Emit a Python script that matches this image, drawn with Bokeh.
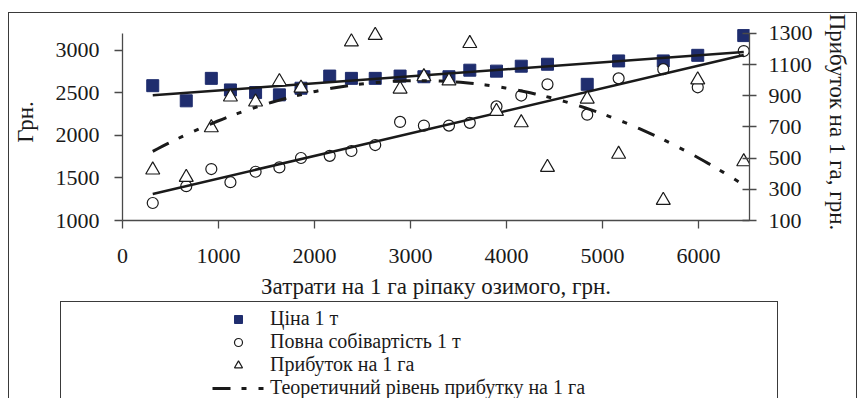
import numpy as np
from bokeh.plotting import figure
from bokeh.layouts import column
from bokeh.models import (Range1d, LinearAxis, FixedTicker, Legend, LegendItem)
from bokeh.embed import file_html
from bokeh.resources import INLINE

# ---- data ----
cost_x = [315, 664, 925, 1124, 1386, 1634, 1859, 2158, 2384, 2632, 2891,
          3139, 3400, 3617, 3895, 4153, 4426, 4840, 5167, 5632, 5991, 6470]
price = [2585, 2407, 2671, 2535, 2504, 2477, 2555, 2698, 2671, 2671, 2698,
         2690, 2690, 2767, 2756, 2814, 2837, 2601, 2876, 2876, 2942, 3174]
cost = [1206, 1403, 1605, 1450, 1573, 1624, 1735, 1760, 1817, 1887, 2159,
        2116, 2116, 2148, 2341, 2469, 2601, 2244, 2671, 2779, 2566, 2992]
profit_x = [315, 664, 925, 1124, 1386, 1634, 1859, 2384, 2632, 2891, 3139,
            3400, 3617, 3895, 4153, 4426, 4840, 5167, 5632, 5991, 6470]
profit = [424, 377, 695, 892, 860, 991, 949, 1245, 1287, 943, 1022,
          995, 1235, 800, 727, 441, 879, 525, 229, 1002, 477]

x_ticks = [0, 1000, 2000, 3000, 4000, 5000, 6000]
left_ticks = [1000, 1500, 2000, 2500, 3000]
right_ticks = [100, 300, 500, 700, 900, 1100, 1300]

labels = ["Ціна 1 т", "Повна собівартість 1 т", "Прибуток на 1 га",
          "Теоретичний рівень прибутку на 1 га"]
x_title = "Затрати на 1 га ріпаку озимого, грн."
y_title = "Грн."
y2_title = "Прибуток на 1 га, грн."

FONT = "Liberation Serif"
NAVY = "#1f2d6e"
INK = "#1a1a1a"
AXC = "#4a4a4a"
FRAME = "1px solid #3a3a3a"

# ---- main chart ----
# axis lines stop at 3200 / 1300; the ranges go a little higher so the
# top markers are not clipped by the plot frame
p = figure(width=847, height=288, output_backend="svg", toolbar_location=None,
           x_range=Range1d(0, 6530), y_range=Range1d(1000, 3316),
           min_border_left=109, min_border_right=107,
           min_border_top=10, min_border_bottom=79)
p.extra_y_ranges = {"profit": Range1d(100, 1363)}
p.outline_line_color = None
p.xgrid.grid_line_color = None
p.ygrid.grid_line_color = None

y2 = LinearAxis(y_range_name="profit")
p.add_layout(y2, "right")

p.xaxis.ticker = FixedTicker(ticks=x_ticks)
p.yaxis[0].ticker = FixedTicker(ticks=left_ticks)
y2.ticker = FixedTicker(ticks=right_ticks)
p.yaxis[0].bounds = (1000, 3200)
y2.bounds = (100, 1300)
p.xaxis.axis_label = x_title
p.yaxis[0].axis_label = y_title
y2.axis_label = y2_title

for ax in [p.xaxis[0], p.yaxis[0], y2]:
    ax.axis_line_color = AXC
    ax.axis_line_width = 1.3
    ax.major_tick_line_color = AXC
    ax.major_tick_line_width = 1.3
    ax.minor_tick_line_color = None
    ax.major_label_text_font = FONT
    ax.major_label_text_font_size = "22px"
    ax.major_label_text_color = INK
    ax.axis_label_text_font = FONT
    ax.axis_label_text_font_size = "23px"
    ax.axis_label_text_font_style = "normal"
    ax.axis_label_text_color = INK

p.xaxis.major_tick_out = 8
p.xaxis.major_tick_in = 0
p.xaxis.major_label_standoff = 20
p.xaxis.axis_label_standoff = 8
p.yaxis[0].major_tick_out = 8
p.yaxis[0].major_tick_in = 0
p.yaxis[0].major_label_standoff = 15
p.yaxis[0].axis_label_standoff = 15
y2.major_tick_out = 7
y2.major_tick_in = 7
y2.major_label_standoff = 12
y2.axis_label_standoff = 9

MARKERS = [
    dict(marker="square", size=12, fill_color=NAVY, line_color=NAVY),
    dict(marker="circle", size=11, fill_color="white", line_color=INK, line_width=1.2),
    dict(marker="triangle", size=14, fill_color="white", line_color=INK, line_width=1.2),
]
DASH = dict(line_color=INK, line_width=3, line_dash="18 11 5 12 5 12")

p.scatter(cost_x, price, **MARKERS[0])
p.scatter(cost_x, cost, **MARKERS[1])

# ---- trend lines computed from the data ----
xa = np.array(cost_x, dtype=float)
xs = np.array([xa.min(), xa.max()])
k_price = np.polyfit(xa, price, 1)
k_cost = np.polyfit(xa, cost, 1)
p.line(xs, np.polyval(k_price, xs), line_color=INK, line_width=2.5)
p.line(xs, np.polyval(k_cost, xs), line_color=INK, line_width=2.5)

p.scatter(profit_x, profit, y_range_name="profit", **MARKERS[2])

xp = np.array(profit_x, dtype=float)
k_profit = np.polyfit(xp, profit, 2)
xq = np.linspace(xp.min(), xp.max(), 120)
p.line(xq, np.polyval(k_profit, xq), y_range_name="profit", **DASH)

# ---- legend panel (boxed, below the chart) ----
# borders match the main chart's so the column layout does not realign them
q = figure(width=718, height=97, output_backend="svg", toolbar_location=None,
           x_range=Range1d(0, 1), y_range=Range1d(0, 1),
           min_border_left=109, min_border_right=107,
           min_border_top=0, min_border_bottom=0,
           x_axis_location=None, y_axis_location=None)
q.outline_line_color = None
q.xgrid.grid_line_color = None
q.ygrid.grid_line_color = None
lr = [q.scatter(cost_x, price, visible=False, **MARKERS[0]),
      q.scatter(cost_x, cost, visible=False, **MARKERS[1]),
      q.scatter(profit_x, profit, visible=False, **MARKERS[2]),
      q.line(xq, np.polyval(k_profit, xq), visible=False, **DASH)]
legend = Legend(items=[LegendItem(label=t, renderers=[r]) for t, r in zip(labels, lr)],
                location=(38, 0), border_line_color=None,
                background_fill_alpha=0, inactive_fill_alpha=0,
                padding=5, spacing=0, margin=0,
                glyph_width=52, glyph_height=20, label_height=18,
                label_standoff=6, label_text_font=FONT,
                label_text_font_size="20px", label_text_color=INK)
q.add_layout(legend)
q.margin = (0, 0, 0, 51)
q.styles = {"border-top": FRAME, "border-left": FRAME, "border-right": FRAME}

page = column(p, q, margin=(12, 0, 0, 8),
              styles={"border-top": FRAME, "border-left": FRAME,
                      "border-right": FRAME})

open("out.html", "w").write(file_html(page, INLINE))
